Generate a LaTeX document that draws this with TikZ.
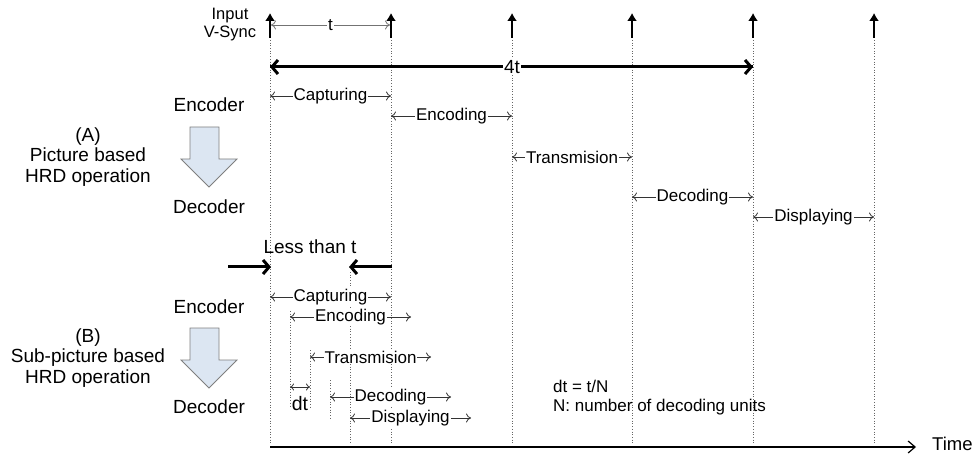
\documentclass[tikz,border=0pt]{standalone}
\usepackage{fontspec}
\setmainfont{Liberation Sans}
\usetikzlibrary{arrows.meta}
\definecolor{blockfill}{HTML}{DCE6F2}
\definecolor{blockline}{HTML}{7F7F7F}
\begin{document}
\begin{tikzpicture}[x=1pt,y=-1pt,
  vline/.style={dotted, draw=black!60, line width=0.7pt},
  vsync/.style={-{Latex[length=8pt,width=10pt]}, line width=1.4pt},
  span/.style={{To[length=5pt,width=9pt]}-{To[length=5pt,width=9pt]}, draw=black!80, line width=0.8pt},
  spanlbl/.style={fill=white, inner sep=1pt, text=black, font=\fontsize{17}{19}\selectfont},
  biglbl/.style={font=\fontsize{19}{20.5}\selectfont, align=center, inner sep=0pt},
  midlbl/.style={font=\fontsize{16.5}{18}\selectfont, align=center, inner sep=0pt},
  boldarrow/.style={-{Straight Barb[length=6pt,width=14pt]}, line width=3pt},
  blockarrow/.style={fill=blockfill, draw=blockline, line width=0.8pt}
]
\useasboundingbox (0,0) rectangle (977,454);

% vertical dotted lines
\foreach \x/\n in {270/a,391/b,512/c,632/d,753/e,874/f}{
  \coordinate (top\n) at (\x,40);
  \coordinate (bot\n) at (\x,444);
  \draw[vline] (top\n) -- (bot\n);
}
% short dotted lines in (B)
\coordinate (s1t) at (290,311); \coordinate (s1b) at (290,407);
\coordinate (s2t) at (310,350); \coordinate (s2b) at (310,408);
\coordinate (s3t) at (330,380); \coordinate (s3b) at (330,418);
\coordinate (s4t) at (350,272); \coordinate (s4b) at (350,444);
\draw[vline] (s1t) -- (s1b);
\draw[vline] (s2t) -- (s2b);
\draw[vline] (s3t) -- (s3b);
\draw[vline] (s4t) -- (s4b);

% V-sync arrows
\foreach \x/\n in {270/a,391/b,512/c,632/d,753/e,874/f}{
  \coordinate (vs\n0) at (\x,38);
  \coordinate (vs\n1) at (\x,13);
  \draw[vsync] (vs\n0) -- (vs\n1);
}
\node[midlbl] (vsynclbl) at (230,25) {Input\\V-Sync};

% t arrow
\coordinate (t0) at (271,25); \coordinate (t1) at (390,25);
\draw[span, draw=black!55] (t0) -- (t1) node[midway, spanlbl] (tlbl) {t};

% 4t arrow
\coordinate (f0) at (270,67); \coordinate (f1) at (753,67);
\draw[boldarrow] (f0) -- (f1);
\draw[boldarrow] (f1) -- (f0);
\node[fill=white, inner sep=1pt, font=\fontsize{19}{22}\selectfont] (fourt) at (512,67) {4t};

% (A) picture based
\coordinate (aC0) at (270,96);  \coordinate (aC1) at (391,96);
\coordinate (aE0) at (391,116); \coordinate (aE1) at (512,116);
\coordinate (aT0) at (512,157); \coordinate (aT1) at (632,157);
\coordinate (aD0) at (632,197); \coordinate (aD1) at (753,197);
\coordinate (aP0) at (753,217); \coordinate (aP1) at (874,217);
\draw[span] (aC0) -- (aC1) node[midway, spanlbl] {Capturing};
\draw[span] (aE0) -- (aE1) node[midway, spanlbl] {Encoding};
\draw[span] (aT0) -- (aT1) node[midway, spanlbl] {Transmision};
\draw[span] (aD0) -- (aD1) node[midway, spanlbl] {Decoding};
\draw[span] (aP0) -- (aP1) node[midway, spanlbl] {Displaying};

\node[biglbl] (encA) at (209,105) {Encoder};
\node[biglbl] (decA) at (209,207) {Decoder};
\node[biglbl] (titleA) at (88,157) {(A)\\Picture based\\HRD operation};
\draw[blockarrow] (190,127) -- (219,127) -- (219,159) -- (237,159) -- (209,187)
  -- (181,159) -- (190,159) -- cycle;

% Less than t
\node[biglbl] (less) at (310,247) {Less than t};
\coordinate (l0) at (228,267); \coordinate (l1) at (271,267);
\coordinate (r0) at (392,267); \coordinate (r1) at (349,267);
\draw[boldarrow] (l0) -- (l1);
\draw[boldarrow] (r0) -- (r1);

% (B) sub-picture based
\coordinate (bC0) at (270,297); \coordinate (bC1) at (391,297);
\coordinate (bE0) at (290,317); \coordinate (bE1) at (411,317);
\coordinate (bT0) at (310,357); \coordinate (bT1) at (431,357);
\coordinate (bd0) at (290,387); \coordinate (bd1) at (310,387);
\coordinate (bD0) at (330,397); \coordinate (bD1) at (451,397);
\coordinate (bP0) at (350,418); \coordinate (bP1) at (471,418);
\draw[span] (bC0) -- (bC1) node[midway, spanlbl] {Capturing};
\draw[span] (bE0) -- (bE1) node[midway, spanlbl] {Encoding};
\draw[span] (bT0) -- (bT1) node[midway, spanlbl] {Transmision};
\draw[span, {To[length=4pt,width=7pt]}-{To[length=4pt,width=7pt]}] (bd0) -- (bd1);
\node[fill=white, inner sep=0.5pt, font=\fontsize{19.5}{21}\selectfont] (dtlbl) at (300,404) {dt};
\draw[span] (bD0) -- (bD1) node[midway, spanlbl] {Decoding};
\draw[span] (bP0) -- (bP1) node[midway, spanlbl] {Displaying};

\node[biglbl] (encB) at (209,307) {Encoder};
\node[biglbl] (decB) at (209,407) {Decoder};
\node[biglbl] (titleB) at (88,358) {(B)\\Sub-picture based\\HRD operation};
\draw[blockarrow] (190,328) -- (219,328) -- (219,360) -- (237,360) -- (209,388)
  -- (181,360) -- (190,360) -- cycle;

% note
\node[anchor=west, align=left, inner sep=0pt, font=\fontsize{17}{19}\selectfont] (note) at (553,398)
  {dt = t/N\\N: number of decoding units};

% time axis
\coordinate (ax0) at (270,447); \coordinate (ax1) at (916,447);
\draw[-{Straight Barb[length=7pt,width=12pt]}, line width=1.2pt] (ax0) -- (ax1);
\node[anchor=west, inner sep=0pt, font=\fontsize{18.5}{20}\selectfont] (timelbl) at (932,444) {Time};
\end{tikzpicture}
\end{document}
